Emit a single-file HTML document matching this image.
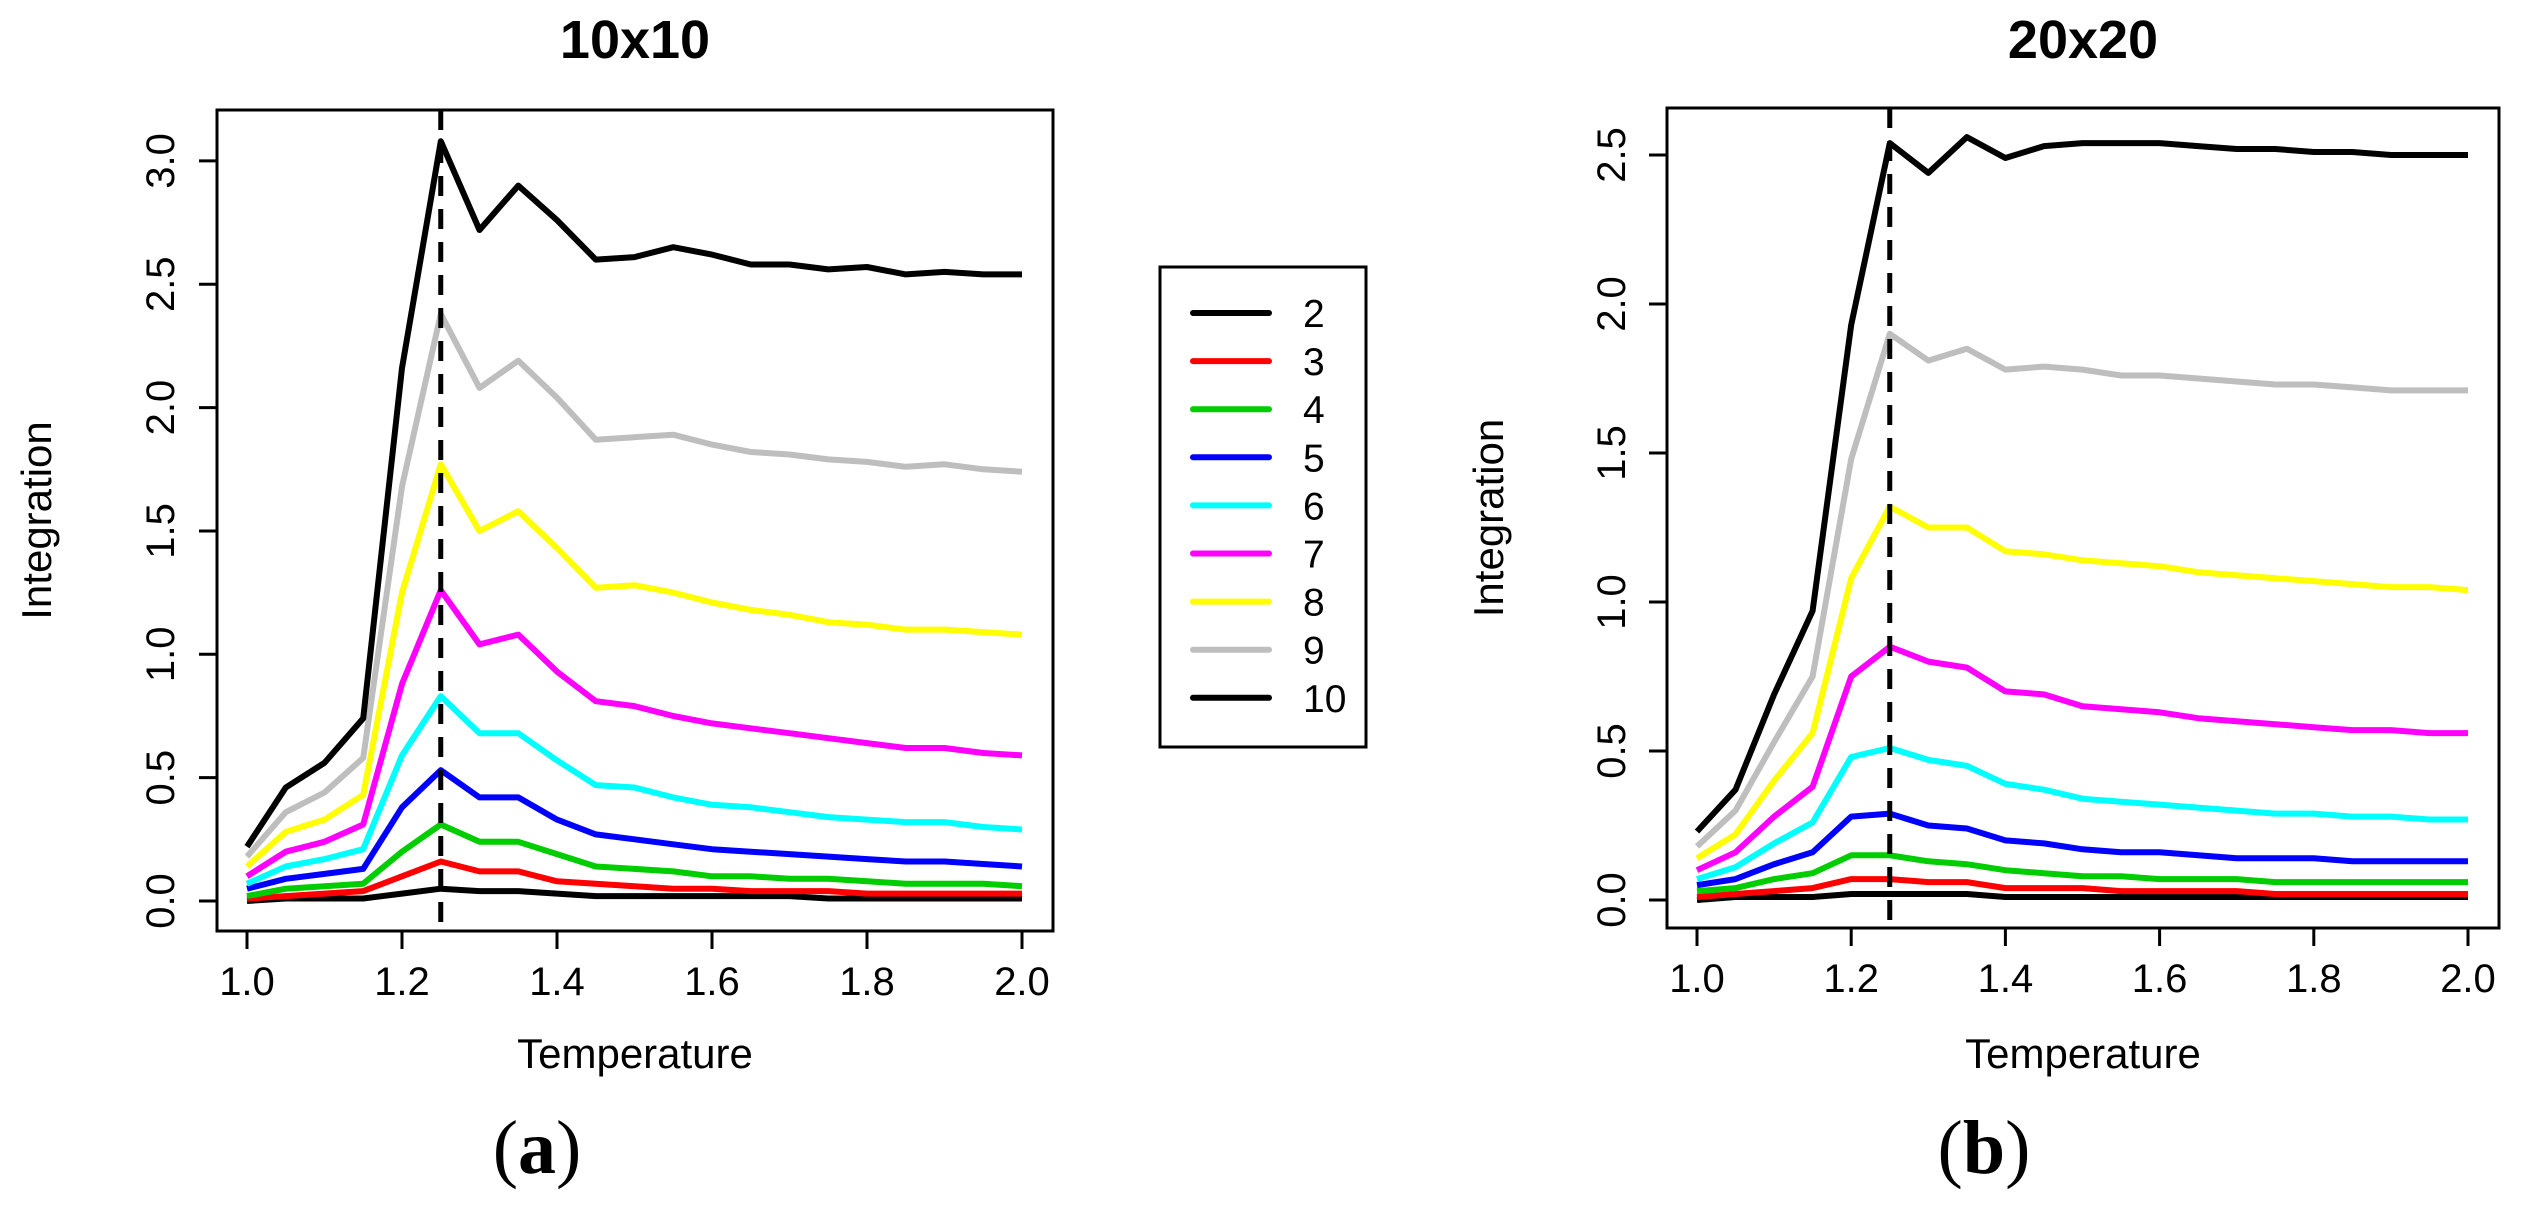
<!DOCTYPE html>
<html><head><meta charset="utf-8"><style>
html,body{margin:0;padding:0;background:#fff;}
svg{display:block;font-family:"Liberation Sans",Arial,sans-serif;}
</style></head><body>
<svg id="fig" width="2530" height="1211" viewBox="0 0 2530 1211">
<g id="legend"></g>
</svg>
<script>
const temps = [1.0,1.05,1.1,1.15,1.2,1.25,1.3,1.35,1.4,1.45,1.5,1.55,1.6,1.65,1.7,1.75,1.8,1.85,1.9,1.95,2.0];
const seriesNames = ["2","3","4","5","6","7","8","9","10"];
const seriesColors = ["#000000","#ff0000","#00cd00","#0000ff","#00ffff","#ff00ff","#ffff00","#bebebe","#000000"];
const xTicks = [1.0,1.2,1.4,1.6,1.8,2.0];
const xTickLabels = ["1.0","1.2","1.4","1.6","1.8","2.0"];
const yTicksA = [0,0.5,1.0,1.5,2.0,2.5,3.0];
const yTickLabelsA = ["0.0","0.5","1.0","1.5","2.0","2.5","3.0"];
const yTicksB = [0,0.5,1.0,1.5,2.0,2.5];
const yTickLabelsB = ["0.0","0.5","1.0","1.5","2.0","2.5"];
const criticalT = 1.25;
// panel a (10x10)
const a2  = [0.0,0.01,0.01,0.01,0.03,0.05,0.04,0.04,0.03,0.02,0.02,0.02,0.02,0.02,0.02,0.01,0.01,0.01,0.01,0.01,0.01];
const a3  = [0.01,0.02,0.03,0.04,0.10,0.16,0.12,0.12,0.08,0.07,0.06,0.05,0.05,0.04,0.04,0.04,0.03,0.03,0.03,0.03,0.03];
const a4  = [0.02,0.05,0.06,0.07,0.20,0.31,0.24,0.24,0.19,0.14,0.13,0.12,0.10,0.10,0.09,0.09,0.08,0.07,0.07,0.07,0.06];
const a5  = [0.05,0.09,0.11,0.13,0.38,0.53,0.42,0.42,0.33,0.27,0.25,0.23,0.21,0.20,0.19,0.18,0.17,0.16,0.16,0.15,0.14];
const a6  = [0.07,0.14,0.17,0.21,0.59,0.83,0.68,0.68,0.57,0.47,0.46,0.42,0.39,0.38,0.36,0.34,0.33,0.32,0.32,0.30,0.29];
const a7  = [0.10,0.20,0.24,0.31,0.88,1.26,1.04,1.08,0.93,0.81,0.79,0.75,0.72,0.70,0.68,0.66,0.64,0.62,0.62,0.60,0.59];
const a8  = [0.14,0.28,0.33,0.43,1.25,1.77,1.50,1.58,1.43,1.27,1.28,1.25,1.21,1.18,1.16,1.13,1.12,1.10,1.10,1.09,1.08];
const a9  = [0.18,0.36,0.44,0.58,1.68,2.38,2.08,2.19,2.04,1.87,1.88,1.89,1.85,1.82,1.81,1.79,1.78,1.76,1.77,1.75,1.74];
const a10 = [0.22,0.46,0.56,0.74,2.16,3.08,2.72,2.90,2.76,2.60,2.61,2.65,2.62,2.58,2.58,2.56,2.57,2.54,2.55,2.54,2.54];
// panel b (20x20)
const b2  = [0.0,0.01,0.01,0.01,0.02,0.02,0.02,0.02,0.01,0.01,0.01,0.01,0.01,0.01,0.01,0.01,0.01,0.01,0.01,0.01,0.01];
const b3  = [0.01,0.02,0.03,0.04,0.07,0.07,0.06,0.06,0.04,0.04,0.04,0.03,0.03,0.03,0.03,0.02,0.02,0.02,0.02,0.02,0.02];
const b4  = [0.03,0.04,0.07,0.09,0.15,0.15,0.13,0.12,0.10,0.09,0.08,0.08,0.07,0.07,0.07,0.06,0.06,0.06,0.06,0.06,0.06];
const b5  = [0.05,0.07,0.12,0.16,0.28,0.29,0.25,0.24,0.20,0.19,0.17,0.16,0.16,0.15,0.14,0.14,0.14,0.13,0.13,0.13,0.13];
const b6  = [0.07,0.11,0.19,0.26,0.48,0.51,0.47,0.45,0.39,0.37,0.34,0.33,0.32,0.31,0.30,0.29,0.29,0.28,0.28,0.27,0.27];
const b7  = [0.10,0.16,0.28,0.38,0.75,0.85,0.80,0.78,0.70,0.69,0.65,0.64,0.63,0.61,0.60,0.59,0.58,0.57,0.57,0.56,0.56];
const b8  = [0.14,0.22,0.40,0.56,1.08,1.32,1.25,1.25,1.17,1.16,1.14,1.13,1.12,1.10,1.09,1.08,1.07,1.06,1.05,1.05,1.04];
const b9  = [0.18,0.30,0.53,0.75,1.48,1.90,1.81,1.85,1.78,1.79,1.78,1.76,1.76,1.75,1.74,1.73,1.73,1.72,1.71,1.71,1.71];
const b10 = [0.23,0.37,0.69,0.97,1.93,2.54,2.44,2.56,2.49,2.53,2.54,2.54,2.54,2.53,2.52,2.52,2.51,2.51,2.50,2.50,2.50];

const NS = "http://www.w3.org/2000/svg";
const svg = document.getElementById("fig");
function mk(tag, attrs, parent, txt){
  const e = document.createElementNS(NS, tag);
  for (const k in attrs) e.setAttribute(k, attrs[k]);
  if (txt !== undefined) e.textContent = txt;
  (parent||svg).appendChild(e);
  return e;
}

function panel(p){
  const g = mk("g", {});
  
  
  const xs = v => p.x0 + (v - 1.0) * (p.x1 - p.x0);
  const ys = v => p.y0 - v * p.ppu;
  // series
  p.series.forEach((arr, i) => {
    const pts = arr.map((v, j) => xs(temps[j]).toFixed(1) + "," + ys(v).toFixed(1)).join(" ");
    const pl = mk("polyline", {points: pts, fill: "none", stroke: seriesColors[i], "stroke-width": 6, "stroke-linejoin": "round"}, g);
    
    
  });
  // critical dashed line
  const dl = mk("line", {x1: xs(criticalT), x2: xs(criticalT), y1: p.top, y2: p.bottom, stroke: "#000", "stroke-width": 5, "stroke-dasharray": "20,13"}, g);
  
  
  // box
  const bx = mk("rect", {x: p.left, y: p.top, width: p.right - p.left, height: p.bottom - p.top, fill: "none", stroke: "#000", "stroke-width": 3}, g);
  
  
  // x axis
  const xa = mk("g", {}, g);
  
  
  mk("line", {x1: xs(xTicks[0]), x2: xs(xTicks[xTicks.length-1]), y1: p.bottom, y2: p.bottom, stroke: "#000", "stroke-width": 3}, xa);
  xTicks.forEach((t, i) => {
    mk("line", {x1: xs(t), x2: xs(t), y1: p.bottom, y2: p.bottom + 18, stroke: "#000", "stroke-width": 3}, xa);
    const tl = mk("text", {x: xs(t), y: p.bottom + 64, "font-size": 40, "text-anchor": "middle"}, xa, xTickLabels[i]);
    
    
  });
  // y axis
  const ya = mk("g", {}, g);
  
  
  p.yTicks.forEach((t, i) => {
    mk("line", {x1: p.left, x2: p.left - 18, y1: ys(t), y2: ys(t), stroke: "#000", "stroke-width": 3}, ya);
    const tl = mk("text", {x: 0, y: 0, "font-size": 40, "text-anchor": "middle", transform: "translate(" + p.ylabX + "," + ys(t) + ") rotate(-90)"}, ya, p.yTickLabels[i]);
    
    
  });
  const yt = mk("text", {x: 0, y: 0, "font-size": 42, "text-anchor": "middle", transform: "translate(" + p.yTitleX + "," + ((p.top + p.bottom) / 2) + ") rotate(-90)"}, g, "Integration");
  
  
  const xt = mk("text", {x: (p.left + p.right) / 2, y: 1068, "font-size": 42, "text-anchor": "middle"}, g, "Temperature");
  
  
  const ti = mk("text", {x: (p.left + p.right) / 2, y: 58, "font-size": 54, "font-weight": "bold", "text-anchor": "middle"}, g, p.title);
  
  
  const cap = mk("text", {x: p.capX, y: 1173, "font-size": 76, "font-family": "'Liberation Serif',serif", "text-anchor": "middle"}, g);
  
  
  mk("tspan", {}, cap, "(");
  mk("tspan", {"font-weight": "bold"}, cap, p.cap);
  mk("tspan", {}, cap, ")");
}

panel({id: "panel-10x10", title: "10x10", cap: "a", capX: 537,
  left: 217, right: 1053, top: 110, bottom: 931,
  x0: 247, x1: 1022, y0: 901, ppu: 246.7,
  ylabX: 174, yTitleX: 51, yTicks: yTicksA, yTickLabels: yTickLabelsA,
  series: [a2,a3,a4,a5,a6,a7,a8,a9,a10]});
panel({id: "panel-20x20", title: "20x20", cap: "b", capX: 1984,
  left: 1667, right: 2499, top: 108, bottom: 928,
  x0: 1697, x1: 2468, y0: 900, ppu: 298,
  ylabX: 1625, yTitleX: 1503, yTicks: yTicksB, yTickLabels: yTickLabelsB,
  series: [b2,b3,b4,b5,b6,b7,b8,b9,b10]});

// legend
const lg = document.getElementById("legend");
svg.appendChild(lg);
mk("rect", {x: 1160, y: 267, width: 206, height: 480, fill: "#fff", stroke: "#000", "stroke-width": 3}, lg);
seriesNames.forEach((n, i) => {
  const y = 313 + i * 48.1;
  const e = mk("g", {}, lg);
  
  
  mk("line", {x1: 1193, x2: 1269, y1: y, y2: y, stroke: seriesColors[i], "stroke-width": 6, "stroke-linecap": "round"}, e);
  mk("text", {x: 1303, y: y + 14, "font-size": 39}, e, n);
});
</script>
</body></html>
